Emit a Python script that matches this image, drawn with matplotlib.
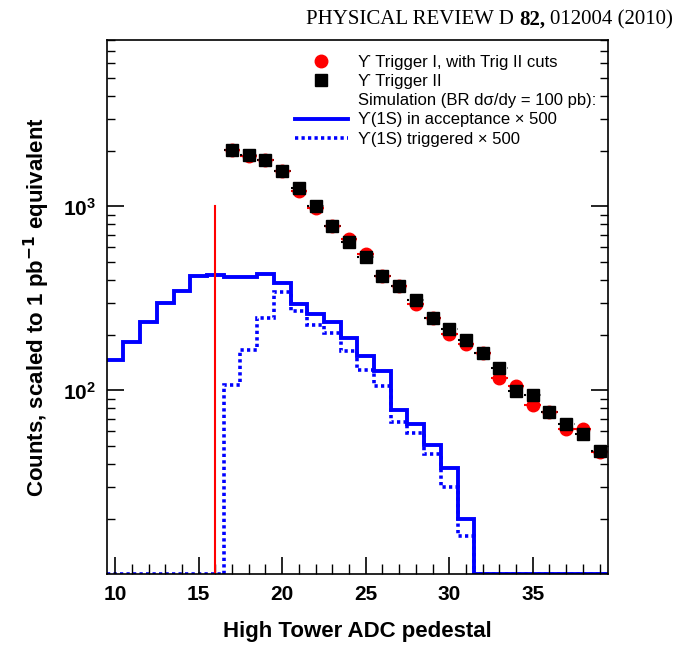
import numpy as np
import matplotlib
matplotlib.use("Agg")
import matplotlib.pyplot as plt
from matplotlib.lines import Line2D
from matplotlib.ticker import FixedLocator, LogFormatterMathtext

plt.rcParams['font.family'] = ['Liberation Sans', 'DejaVu Sans']

# ADC pedestal bins (centres)
adc_sim = np.arange(10, 40)
acc = [147, 184, 235, 298, 348, 420, 425, 411, 415, 431, 383, 296, 260, 236, 193,
       154, 128, 78.5, 65.6, 50.2, 38.0, 20.0] + [0] * 8
trig = [0] * 7 + [107, 165, 247, 341, 271, 226, 205, 164, 129, 105, 67, 58.6, 45,
                  29.7, 16.1] + [0] * 8

adc_data = np.arange(17, 40)
trig2 = [2014, 1910, 1795, 1550, 1258, 1000, 778, 637, 528, 420, 367, 311, 247, 216,
         188, 160, 132, 99.6, 94, 76, 66, 58, 47]
trig1 = [2014, 1870, 1795, 1550, 1217, 979, 778, 664, 553, 420, 367, 296, 247, 203,
         179, 160, 117, 105, 83, 76, 62, 62, 46]

cut_adc = 16.0

fig = plt.figure(figsize=(6.8, 6.49), dpi=100)
ax = fig.add_axes([0.157, 0.115, 0.737, 0.823])

ymin = 10
edges = np.append(adc_sim - 0.5, adc_sim[-1] + 0.5)
acc_plot = np.where(np.array(acc) > 0, acc, ymin * 1.003)
trig_plot = np.where(np.array(trig) > 0, trig, ymin * 1.003)
ax.stairs(acc_plot, edges, color='#0000ff', lw=2.8, baseline=None)
ax.stairs(trig_plot, edges, color='#0000ff', lw=2.6, ls=(0, (0.9, 0.9)), baseline=None)

ax.plot([cut_adc, cut_adc], [ymin, 1000], color='red', lw=1.5)

ax.errorbar(adc_data, trig1, xerr=0.5, fmt='o', color='red', ms=9,
            elinewidth=1.5, ls='none', capsize=0)
eb = ax.errorbar(adc_data, trig2, xerr=0.5, fmt='s', color='black', ms=9,
                 elinewidth=1.5, ls='none', capsize=0)
for c in eb[2]:
    c.set_linestyle(':')

ax.set_yscale('log')
ax.set_xlim(9.5, 39.5)
ax.set_ylim(ymin, 8000)
ax.yaxis.set_major_locator(FixedLocator([100, 1000]))
ax.yaxis.set_major_formatter(LogFormatterMathtext())
ax.set_xticks([10, 15, 20, 25, 30, 35])
ax.set_xticks(np.arange(10, 40), minor=True)
ax.tick_params(which='both', direction='in', top=False, right=True)
ax.tick_params(which='major', length=12, width=1.2, labelsize=15, pad=8)
ax.tick_params(which='minor', length=6, width=1, labelleft=False)
ax.tick_params(axis='x', which='minor', length=7)
for lab in ax.get_xticklabels() + ax.get_yticklabels():
    lab.set_fontweight('bold')
for s in ax.spines.values():
    s.set_linewidth(1.2)

ax.set_xlabel('High Tower ADC pedestal', fontsize=16, fontweight='bold', labelpad=12)
ax.set_ylabel('Counts, scaled to 1 pb$^{\\mathbf{-1}}$ equivalent', fontsize=16,
              fontweight='bold', labelpad=8)

handles = [
    Line2D([], [], marker='o', color='red', ls='none', ms=9),
    Line2D([], [], marker='s', color='black', ls='none', ms=9),
    Line2D([], [], ls='none'),
    Line2D([], [], color='#0000ff', lw=2.8),
    Line2D([], [], color='#0000ff', lw=2.6, ls=(0, (0.9, 0.9))),
]
labels = ['ϒ Trigger I, with Trig II cuts', 'ϒ Trigger II',
          'Simulation (BR dσ/dy = 100 pb):', 'ϒ(1S) in acceptance × 500',
          'ϒ(1S) triggered × 500']
ax.legend(handles, labels, loc='upper right', bbox_to_anchor=(0.99, 0.985),
          frameon=False, fontsize=12, handlelength=3.2, labelspacing=0.25,
          handletextpad=0.6, borderaxespad=0)

serif = 'Liberation Serif'
t1 = fig.text(0.99, 0.985, '012004 (2010)', ha='right', va='top', fontsize=15, family=serif)
fig.canvas.draw()
bb = t1.get_window_extent().transformed(fig.transFigure.inverted())
t2 = fig.text(bb.x0 - 0.008, 0.985, '82,', ha='right', va='top', fontsize=15,
              family=serif, fontweight='bold')
fig.canvas.draw()
bb = t2.get_window_extent().transformed(fig.transFigure.inverted())
fig.text(bb.x0 - 0.008, 0.985, 'PHYSICAL REVIEW D', ha='right', va='top',
         fontsize=15, family=serif)

fig.savefig('out.png', dpi=100)
